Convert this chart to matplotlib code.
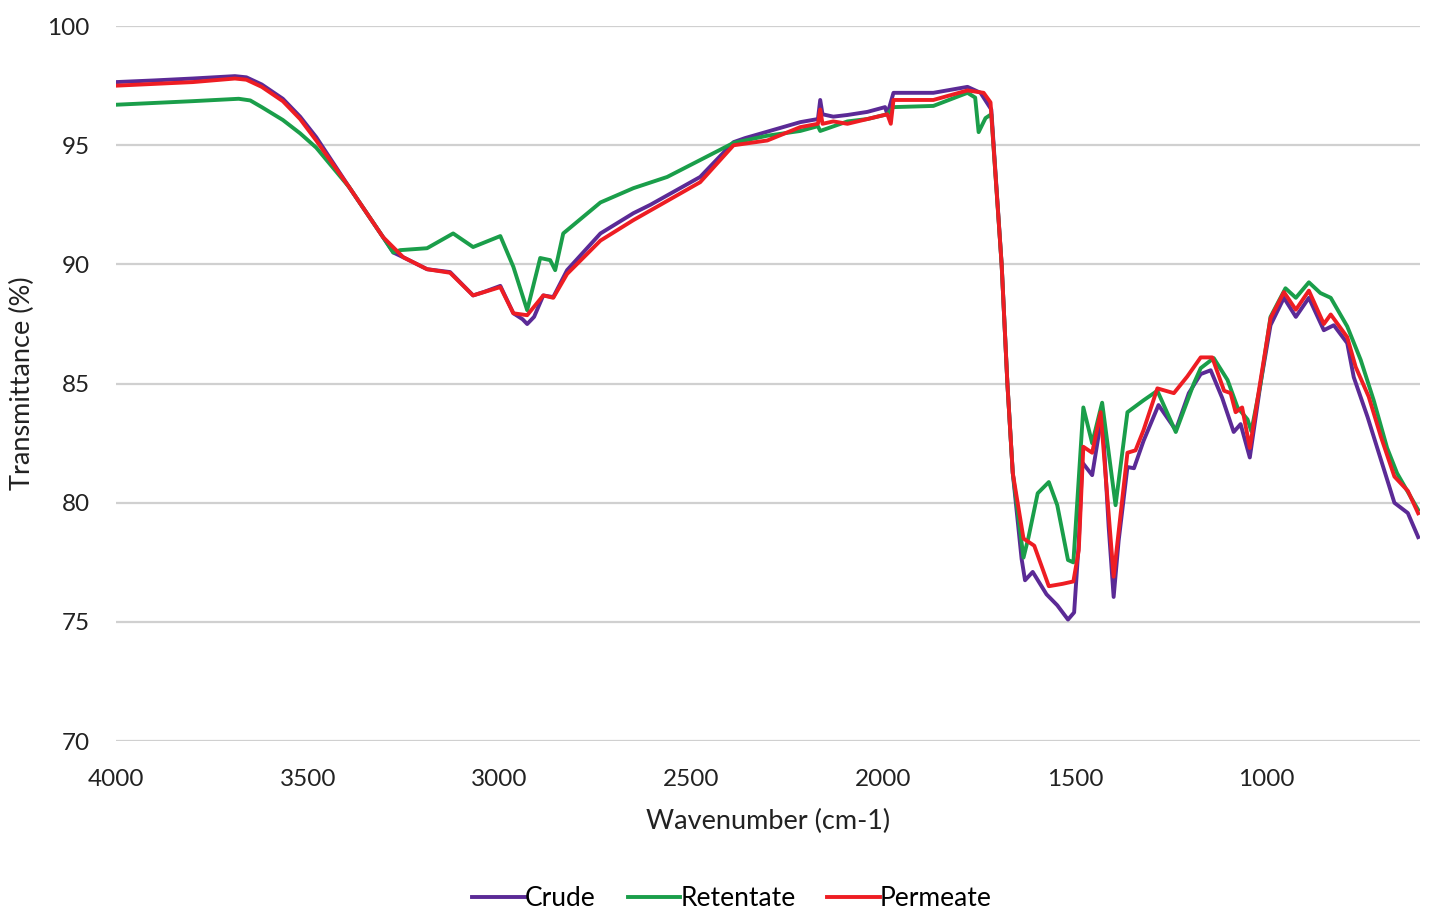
import matplotlib
matplotlib.use("Agg")
import matplotlib.pyplot as plt

plt.rcParams['font.family'] = ['Lato', 'DejaVu Sans']

# wavenumber (cm-1) and transmittance (%)
crude_wn = [4000, 3900, 3800, 3690, 3660, 3620, 3565, 3520, 3478, 3392, 3304, 3277, 3251, 3189, 3129, 3069, 3040,
            2998, 2964, 2940, 2928, 2910, 2886, 2860, 2824, 2737, 2651, 2607, 2477, 2390, 2360, 2302,
            2216, 2170, 2164, 2158, 2130, 2093, 2041, 1995, 1989, 1973, 1869, 1780, 1746, 1718, 1691,
            1676, 1662, 1639, 1630, 1610, 1574, 1546, 1518, 1502, 1490, 1481, 1455, 1429, 1412, 1399,
            1386, 1363, 1346, 1321, 1282, 1237, 1203, 1172, 1146, 1116, 1086, 1068, 1044, 1016, 990,
            955, 924, 890, 851, 825, 790, 773, 737, 702, 667, 632, 605]
crude_t = [97.65, 97.72, 97.8, 97.9, 97.85, 97.55, 96.95, 96.2, 95.34, 93.24, 91.15, 90.5, 90.3, 89.8, 89.68, 88.7, 88.85,
           89.1, 87.95, 87.7, 87.5, 87.8, 88.7, 88.63, 89.76, 91.3, 92.15, 92.5, 93.67, 95.13, 95.3, 95.57,
           95.97, 96.1, 96.9, 96.3, 96.2, 96.27, 96.4, 96.6, 96.3, 97.2, 97.2, 97.45, 97.2, 96.5, 90.0,
           85.0, 81.25, 77.65, 76.75, 77.1, 76.16, 75.7, 75.1, 75.4, 78.3, 81.7, 81.16, 83.75, 79.0, 76.05,
           78.4, 81.5, 81.45, 82.6, 84.1, 83.05, 84.6, 85.4, 85.56, 84.4, 82.97, 83.3, 81.9, 85.0, 87.45,
           88.6, 87.8, 88.6, 87.24, 87.45, 86.7, 85.27, 83.6, 81.8, 80.0, 79.57, 78.56]

retentate_wn = [4000, 3800, 3680, 3650, 3620, 3565, 3520, 3478, 3392, 3304, 3277, 3259, 3189, 3121, 3069, 2998, 2964,
                2928, 2894, 2868, 2855, 2834, 2737, 2651, 2563, 2477, 2390, 2302, 2216, 2170, 2164, 2093,
                2041, 1989, 1973, 1869, 1780, 1760, 1751, 1733, 1718, 1691, 1676, 1662, 1634, 1621, 1597,
                1568, 1546, 1518, 1504, 1478, 1455, 1429, 1394, 1363, 1321, 1285, 1237, 1190, 1172, 1138,
                1102, 1076, 1050, 1040, 1016, 990, 951, 924, 890, 860, 833, 790, 755, 721, 686,
                660, 605]
retentate_t = [96.7, 96.85, 96.95, 96.88, 96.6, 96.06, 95.5, 94.9, 93.24, 91.15, 90.5, 90.6, 90.68, 91.3, 90.73, 91.19, 89.9,
               88.08, 90.27, 90.18, 89.76, 91.3, 92.6, 93.2, 93.67, 94.38, 95.1, 95.4, 95.6, 95.8, 95.6, 96.0,
               96.1, 96.3, 96.6, 96.65, 97.2, 97.0, 95.55, 96.14, 96.3, 90.0, 85.0, 81.25, 77.7, 78.55, 80.4,
               80.87, 79.9, 77.6, 77.5, 84.0, 82.5, 84.2, 79.9, 83.8, 84.3, 84.7, 82.97, 85.0, 85.65, 86.07,
               85.15, 84.0, 83.5, 83.0, 85.0, 87.8, 89.0, 88.6, 89.25, 88.8, 88.6, 87.4, 86.0, 84.3, 82.3,
               81.24, 79.7]

permeate_wn = [4000, 3800, 3690, 3660, 3620, 3565, 3520, 3478, 3392, 3304, 3251, 3189, 3129, 3069, 2998, 2964, 2928,
               2886, 2860, 2824, 2737, 2651, 2477, 2390, 2302, 2216, 2170, 2164, 2158, 2130, 2093, 2041,
               1989, 1980, 1973, 1869, 1780, 1738, 1720, 1691, 1676, 1662, 1634, 1606, 1568, 1532, 1504,
               1490, 1478, 1455, 1433, 1399, 1363, 1342, 1321, 1285, 1242, 1207, 1172, 1142, 1111, 1094,
               1081, 1064, 1044, 1016, 990, 955, 924, 890, 851, 833, 790, 768, 734, 702, 667,
               632, 605]
permeate_t = [97.5, 97.65, 97.8, 97.75, 97.45, 96.85, 96.1, 95.2, 93.24, 91.15, 90.3, 89.8, 89.65, 88.7, 89.05, 87.95, 87.87,
              88.7, 88.6, 89.6, 91.0, 91.86, 93.45, 95.0, 95.2, 95.76, 95.9, 96.5, 95.9, 96.0, 95.9, 96.1,
              96.3, 95.9, 96.9, 96.9, 97.3, 97.2, 96.8, 90.0, 85.0, 81.25, 78.5, 78.2, 76.5, 76.6, 76.7,
              78.0, 82.35, 82.1, 83.8, 76.9, 82.1, 82.2, 83.05, 84.8, 84.6, 85.3, 86.1, 86.1, 84.7, 84.6,
              83.8, 84.0, 82.3, 85.14, 87.74, 88.84, 88.1, 88.9, 87.5, 87.9, 86.95, 85.7, 84.45, 82.76, 81.1,
              80.5, 79.56]

fig = plt.figure(figsize=(14.41, 9.15), dpi=100)
ax = fig.add_axes([0.0805, 0.19, 0.905, 0.7815])

ax.plot(crude_wn, crude_t, color='#5b2a96', linewidth=2.8, label='Crude')
ax.plot(retentate_wn, retentate_t, color='#1a9e4a', linewidth=2.8, label='Retentate')
ax.plot(permeate_wn, permeate_t, color='#ee1d23', linewidth=2.8, label='Permeate')

ax.set_xlim(4000, 600)
ax.set_ylim(70, 100)
ax.set_xticks([4000, 3500, 3000, 2500, 2000, 1500, 1000])
ax.set_yticks([70, 75, 80, 85, 90, 95, 100])
ax.tick_params(length=0, labelsize=17.5, colors='#222222')
ax.tick_params(axis='x', pad=20)
ax.tick_params(axis='y', pad=19)
ax.grid(axis='y', color='#d0d0d0', linewidth=1.6)
ax.set_axisbelow(True)
for s in ax.spines.values():
    s.set_visible(False)

ax.set_xlabel('Wavenumber (cm-1)', fontsize=19.5, labelpad=14, color='#222222')
ax.set_ylabel('Transmittance (%)', fontsize=19.5, labelpad=9, color='#222222')

ax.legend(loc='upper center', bbox_to_anchor=(0.4725, -0.17), ncol=3, frameon=False,
          fontsize=19, handlelength=2.0, handletextpad=0.0, columnspacing=1.2)

fig.savefig('out.png', dpi=100)
